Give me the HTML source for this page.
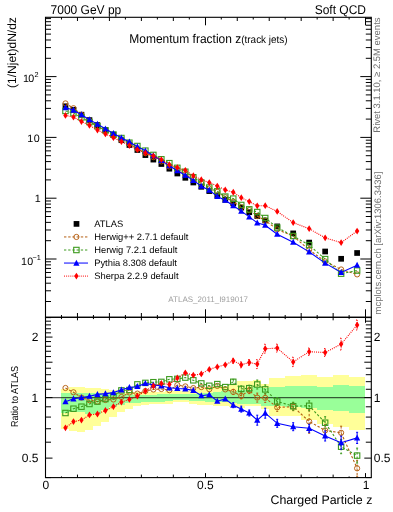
<!DOCTYPE html><html><head><meta charset="utf-8"><style>html,body{margin:0;padding:0;background:#fff;width:393px;height:512px;overflow:hidden}svg{display:block;will-change:transform}text{font-family:"Liberation Sans",sans-serif;text-rendering:geometricPrecision}</style></head><body><svg width="393" height="512" viewBox="0 0 393 512"><defs><clipPath id="cm"><rect x="45.5" y="17.3" width="325.8" height="300.0"/></clipPath><clipPath id="cr"><rect x="45.5" y="317.3" width="325.8" height="160.3"/></clipPath></defs><g clip-path="url(#cr)"><rect x="61" y="389" width="8" height="40" fill="#ffff99"/><rect x="69" y="387" width="8" height="44" fill="#ffff99"/><rect x="77" y="387" width="8" height="45" fill="#ffff99"/><rect x="85" y="388" width="8" height="42" fill="#ffff99"/><rect x="93" y="388" width="8" height="38" fill="#ffff99"/><rect x="101" y="389" width="8" height="33" fill="#ffff99"/><rect x="109" y="390" width="8" height="27" fill="#ffff99"/><rect x="117" y="391" width="8" height="21" fill="#ffff99"/><rect x="125" y="392" width="8" height="17" fill="#ffff99"/><rect x="133" y="392" width="8" height="14" fill="#ffff99"/><rect x="141" y="392" width="8" height="13" fill="#ffff99"/><rect x="149" y="392" width="8" height="12" fill="#ffff99"/><rect x="157" y="392" width="8" height="12" fill="#ffff99"/><rect x="165" y="391" width="8" height="13" fill="#ffff99"/><rect x="173" y="391" width="8" height="11" fill="#ffff99"/><rect x="181" y="391" width="8" height="11" fill="#ffff99"/><rect x="189" y="389" width="8" height="15" fill="#ffff99"/><rect x="197" y="388" width="8" height="17" fill="#ffff99"/><rect x="205" y="387" width="8" height="18" fill="#ffff99"/><rect x="213" y="386" width="8" height="20" fill="#ffff99"/><rect x="221" y="386" width="8" height="20" fill="#ffff99"/><rect x="229" y="385" width="8" height="22" fill="#ffff99"/><rect x="237" y="381" width="8" height="27" fill="#ffff99"/><rect x="245" y="381" width="8" height="25" fill="#ffff99"/><rect x="253" y="380" width="8" height="26" fill="#ffff99"/><rect x="261" y="384" width="8" height="25" fill="#ffff99"/><rect x="269" y="378" width="16" height="38" fill="#ffff99"/><rect x="285" y="376" width="16" height="40" fill="#ffff99"/><rect x="301" y="375" width="16" height="45" fill="#ffff99"/><rect x="317" y="377" width="16" height="47" fill="#ffff99"/><rect x="333" y="375" width="16" height="52" fill="#ffff99"/><rect x="349" y="377" width="16" height="53" fill="#ffff99"/><rect x="61" y="393" width="8" height="20" fill="#99ff99"/><rect x="69" y="393" width="8" height="19" fill="#99ff99"/><rect x="77" y="393" width="8" height="19" fill="#99ff99"/><rect x="85" y="393" width="8" height="21" fill="#99ff99"/><rect x="93" y="393" width="8" height="21" fill="#99ff99"/><rect x="101" y="394" width="8" height="16" fill="#99ff99"/><rect x="109" y="394" width="8" height="13" fill="#99ff99"/><rect x="117" y="394" width="8" height="11" fill="#99ff99"/><rect x="125" y="394" width="8" height="9" fill="#99ff99"/><rect x="133" y="395" width="8" height="8" fill="#99ff99"/><rect x="141" y="395" width="8" height="7" fill="#99ff99"/><rect x="149" y="395" width="8" height="7" fill="#99ff99"/><rect x="157" y="394" width="8" height="8" fill="#99ff99"/><rect x="165" y="394" width="8" height="7" fill="#99ff99"/><rect x="173" y="394" width="8" height="6" fill="#99ff99"/><rect x="181" y="394" width="8" height="6" fill="#99ff99"/><rect x="189" y="394" width="8" height="7" fill="#99ff99"/><rect x="197" y="393" width="8" height="8" fill="#99ff99"/><rect x="205" y="393" width="8" height="9" fill="#99ff99"/><rect x="213" y="392" width="8" height="10" fill="#99ff99"/><rect x="221" y="391" width="8" height="11" fill="#99ff99"/><rect x="229" y="391" width="8" height="12" fill="#99ff99"/><rect x="237" y="390" width="8" height="14" fill="#99ff99"/><rect x="245" y="390" width="8" height="14" fill="#99ff99"/><rect x="253" y="387" width="8" height="17" fill="#99ff99"/><rect x="261" y="388" width="8" height="18" fill="#99ff99"/><rect x="269" y="387" width="16" height="19" fill="#99ff99"/><rect x="285" y="386" width="16" height="21" fill="#99ff99"/><rect x="301" y="386" width="16" height="22" fill="#99ff99"/><rect x="317" y="387" width="16" height="23" fill="#99ff99"/><rect x="333" y="385" width="16" height="26" fill="#99ff99"/><rect x="349" y="386" width="16" height="27" fill="#99ff99"/></g><line x1="45.5" y1="397.6" x2="371.3" y2="397.6" stroke="#000" stroke-opacity="0.65" stroke-width="1.4"/><g clip-path="url(#cm)"><rect x="62.62" y="103.45" width="5.7" height="5.7" fill="#000"/><rect x="70.62" y="106.95" width="5.7" height="5.7" fill="#000"/><rect x="78.61" y="111.85" width="5.7" height="5.7" fill="#000"/><rect x="86.60" y="117.25" width="5.7" height="5.7" fill="#000"/><rect x="94.59" y="122.25" width="5.7" height="5.7" fill="#000"/><rect x="102.58" y="127.15" width="5.7" height="5.7" fill="#000"/><rect x="110.57" y="132.15" width="5.7" height="5.7" fill="#000"/><rect x="118.56" y="137.35" width="5.7" height="5.7" fill="#000"/><rect x="126.55" y="142.15" width="5.7" height="5.7" fill="#000"/><rect x="134.53" y="147.15" width="5.7" height="5.7" fill="#000"/><rect x="142.53" y="152.25" width="5.7" height="5.7" fill="#000"/><rect x="150.52" y="156.75" width="5.7" height="5.7" fill="#000"/><rect x="158.51" y="161.15" width="5.7" height="5.7" fill="#000"/><rect x="166.50" y="165.85" width="5.7" height="5.7" fill="#000"/><rect x="174.49" y="170.65" width="5.7" height="5.7" fill="#000"/><rect x="182.48" y="174.95" width="5.7" height="5.7" fill="#000"/><rect x="190.47" y="179.65" width="5.7" height="5.7" fill="#000"/><rect x="198.46" y="183.95" width="5.7" height="5.7" fill="#000"/><rect x="206.44" y="188.25" width="5.7" height="5.7" fill="#000"/><rect x="214.44" y="192.55" width="5.7" height="5.7" fill="#000"/><rect x="222.43" y="196.95" width="5.7" height="5.7" fill="#000"/><rect x="230.42" y="200.55" width="5.7" height="5.7" fill="#000"/><rect x="238.41" y="204.75" width="5.7" height="5.7" fill="#000"/><rect x="246.40" y="209.35" width="5.7" height="5.7" fill="#000"/><rect x="254.39" y="213.15" width="5.7" height="5.7" fill="#000"/><rect x="262.38" y="217.65" width="5.7" height="5.7" fill="#000"/><rect x="274.36" y="223.55" width="5.7" height="5.7" fill="#000"/><rect x="290.34" y="230.55" width="5.7" height="5.7" fill="#000"/><rect x="306.32" y="239.75" width="5.7" height="5.7" fill="#000"/><rect x="322.30" y="248.65" width="5.7" height="5.7" fill="#000"/><rect x="338.28" y="255.95" width="5.7" height="5.7" fill="#000"/><rect x="354.26" y="250.15" width="5.7" height="5.7" fill="#000"/></g><g clip-path="url(#cm)"><polyline points="65.47,103.40 73.47,108.20 81.46,114.70 89.45,120.89 97.44,126.31 105.43,130.73 113.42,135.57 121.41,140.02 129.40,143.46 137.38,148.79 145.38,153.10 153.37,157.15 161.36,161.40 169.35,166.46 177.34,169.72 185.33,174.41 193.32,179.63 201.31,183.62 209.29,188.56 217.29,191.86 225.28,197.32 233.27,201.68 241.26,207.09 249.25,210.08 257.24,216.00 265.23,220.59 277.21,229.36 293.19,236.15 309.17,249.83 325.15,261.42 341.13,269.45 357.11,274.39" fill="none" stroke="#b45e10" stroke-width="1.1" stroke-dasharray="2.4,1.8"/><path d="M309.17,246.26V253.40M308.17,246.26h2M308.17,253.40h2" fill="none" stroke="#b45e10" stroke-width="1" stroke-dasharray="2.4,1.8"/><circle cx="65.47" cy="103.40" r="2.6" fill="none" stroke="#b45e10" stroke-width="0.95"/><circle cx="73.47" cy="108.20" r="2.6" fill="none" stroke="#b45e10" stroke-width="0.95"/><circle cx="81.46" cy="114.70" r="2.6" fill="none" stroke="#b45e10" stroke-width="0.95"/><circle cx="89.45" cy="120.89" r="2.6" fill="none" stroke="#b45e10" stroke-width="0.95"/><circle cx="97.44" cy="126.31" r="2.6" fill="none" stroke="#b45e10" stroke-width="0.95"/><circle cx="105.43" cy="130.73" r="2.6" fill="none" stroke="#b45e10" stroke-width="0.95"/><circle cx="113.42" cy="135.57" r="2.6" fill="none" stroke="#b45e10" stroke-width="0.95"/><circle cx="121.41" cy="140.02" r="2.6" fill="none" stroke="#b45e10" stroke-width="0.95"/><circle cx="129.40" cy="143.46" r="2.6" fill="none" stroke="#b45e10" stroke-width="0.95"/><circle cx="137.38" cy="148.79" r="2.6" fill="none" stroke="#b45e10" stroke-width="0.95"/><circle cx="145.38" cy="153.10" r="2.6" fill="none" stroke="#b45e10" stroke-width="0.95"/><circle cx="153.37" cy="157.15" r="2.6" fill="none" stroke="#b45e10" stroke-width="0.95"/><circle cx="161.36" cy="161.40" r="2.6" fill="none" stroke="#b45e10" stroke-width="0.95"/><circle cx="169.35" cy="166.46" r="2.6" fill="none" stroke="#b45e10" stroke-width="0.95"/><circle cx="177.34" cy="169.72" r="2.6" fill="none" stroke="#b45e10" stroke-width="0.95"/><circle cx="185.33" cy="174.41" r="2.6" fill="none" stroke="#b45e10" stroke-width="0.95"/><circle cx="193.32" cy="179.63" r="2.6" fill="none" stroke="#b45e10" stroke-width="0.95"/><circle cx="201.31" cy="183.62" r="2.6" fill="none" stroke="#b45e10" stroke-width="0.95"/><circle cx="209.29" cy="188.56" r="2.6" fill="none" stroke="#b45e10" stroke-width="0.95"/><circle cx="217.29" cy="191.86" r="2.6" fill="none" stroke="#b45e10" stroke-width="0.95"/><circle cx="225.28" cy="197.32" r="2.6" fill="none" stroke="#b45e10" stroke-width="0.95"/><circle cx="233.27" cy="201.68" r="2.6" fill="none" stroke="#b45e10" stroke-width="0.95"/><circle cx="241.26" cy="207.09" r="2.6" fill="none" stroke="#b45e10" stroke-width="0.95"/><circle cx="249.25" cy="210.08" r="2.6" fill="none" stroke="#b45e10" stroke-width="0.95"/><circle cx="257.24" cy="216.00" r="2.6" fill="none" stroke="#b45e10" stroke-width="0.95"/><circle cx="265.23" cy="220.59" r="2.6" fill="none" stroke="#b45e10" stroke-width="0.95"/><circle cx="277.21" cy="229.36" r="2.6" fill="none" stroke="#b45e10" stroke-width="0.95"/><circle cx="293.19" cy="236.15" r="2.6" fill="none" stroke="#b45e10" stroke-width="0.95"/><circle cx="309.17" cy="249.83" r="2.6" fill="none" stroke="#b45e10" stroke-width="0.95"/><circle cx="325.15" cy="261.42" r="2.6" fill="none" stroke="#b45e10" stroke-width="0.95"/><circle cx="341.13" cy="269.45" r="2.6" fill="none" stroke="#b45e10" stroke-width="0.95"/><circle cx="357.11" cy="274.39" r="2.6" fill="none" stroke="#b45e10" stroke-width="0.95"/></g><g clip-path="url(#cm)"><polyline points="65.47,110.96 73.47,113.16 81.46,117.45 89.45,122.04 97.44,126.31 105.43,130.42 113.42,134.52 121.41,138.02 129.40,142.70 137.38,146.01 145.38,150.65 153.37,154.94 161.36,159.25 169.35,163.16 177.34,167.84 185.33,171.75 193.32,177.27 201.31,182.50 209.29,187.53 217.29,191.32 225.28,196.62 233.27,198.62 241.26,204.97 249.25,209.36 257.24,212.04 265.23,218.02 277.21,227.58 293.19,236.00 309.17,245.08 325.15,259.09 341.13,273.65 357.11,270.54" fill="none" stroke="#3c9a1e" stroke-width="1.1" stroke-dasharray="2.3,1.9"/><rect x="62.77" y="108.26" width="5.4" height="5.4" fill="none" stroke="#3c9a1e" stroke-width="1.1"/><rect x="70.77" y="110.46" width="5.4" height="5.4" fill="none" stroke="#3c9a1e" stroke-width="1.1"/><rect x="78.76" y="114.75" width="5.4" height="5.4" fill="none" stroke="#3c9a1e" stroke-width="1.1"/><rect x="86.75" y="119.34" width="5.4" height="5.4" fill="none" stroke="#3c9a1e" stroke-width="1.1"/><rect x="94.73" y="123.61" width="5.4" height="5.4" fill="none" stroke="#3c9a1e" stroke-width="1.1"/><rect x="102.73" y="127.72" width="5.4" height="5.4" fill="none" stroke="#3c9a1e" stroke-width="1.1"/><rect x="110.72" y="131.82" width="5.4" height="5.4" fill="none" stroke="#3c9a1e" stroke-width="1.1"/><rect x="118.71" y="135.32" width="5.4" height="5.4" fill="none" stroke="#3c9a1e" stroke-width="1.1"/><rect x="126.70" y="140.00" width="5.4" height="5.4" fill="none" stroke="#3c9a1e" stroke-width="1.1"/><rect x="134.69" y="143.31" width="5.4" height="5.4" fill="none" stroke="#3c9a1e" stroke-width="1.1"/><rect x="142.68" y="147.95" width="5.4" height="5.4" fill="none" stroke="#3c9a1e" stroke-width="1.1"/><rect x="150.67" y="152.24" width="5.4" height="5.4" fill="none" stroke="#3c9a1e" stroke-width="1.1"/><rect x="158.66" y="156.55" width="5.4" height="5.4" fill="none" stroke="#3c9a1e" stroke-width="1.1"/><rect x="166.65" y="160.46" width="5.4" height="5.4" fill="none" stroke="#3c9a1e" stroke-width="1.1"/><rect x="174.64" y="165.14" width="5.4" height="5.4" fill="none" stroke="#3c9a1e" stroke-width="1.1"/><rect x="182.63" y="169.05" width="5.4" height="5.4" fill="none" stroke="#3c9a1e" stroke-width="1.1"/><rect x="190.62" y="174.57" width="5.4" height="5.4" fill="none" stroke="#3c9a1e" stroke-width="1.1"/><rect x="198.61" y="179.80" width="5.4" height="5.4" fill="none" stroke="#3c9a1e" stroke-width="1.1"/><rect x="206.59" y="184.83" width="5.4" height="5.4" fill="none" stroke="#3c9a1e" stroke-width="1.1"/><rect x="214.59" y="188.62" width="5.4" height="5.4" fill="none" stroke="#3c9a1e" stroke-width="1.1"/><rect x="222.58" y="193.92" width="5.4" height="5.4" fill="none" stroke="#3c9a1e" stroke-width="1.1"/><rect x="230.57" y="195.92" width="5.4" height="5.4" fill="none" stroke="#3c9a1e" stroke-width="1.1"/><rect x="238.56" y="202.27" width="5.4" height="5.4" fill="none" stroke="#3c9a1e" stroke-width="1.1"/><rect x="246.55" y="206.66" width="5.4" height="5.4" fill="none" stroke="#3c9a1e" stroke-width="1.1"/><rect x="254.54" y="209.34" width="5.4" height="5.4" fill="none" stroke="#3c9a1e" stroke-width="1.1"/><rect x="262.53" y="215.32" width="5.4" height="5.4" fill="none" stroke="#3c9a1e" stroke-width="1.1"/><rect x="274.51" y="224.88" width="5.4" height="5.4" fill="none" stroke="#3c9a1e" stroke-width="1.1"/><rect x="290.49" y="233.30" width="5.4" height="5.4" fill="none" stroke="#3c9a1e" stroke-width="1.1"/><rect x="306.47" y="242.38" width="5.4" height="5.4" fill="none" stroke="#3c9a1e" stroke-width="1.1"/><rect x="322.45" y="256.39" width="5.4" height="5.4" fill="none" stroke="#3c9a1e" stroke-width="1.1"/><rect x="338.43" y="270.95" width="5.4" height="5.4" fill="none" stroke="#3c9a1e" stroke-width="1.1"/><rect x="354.41" y="267.84" width="5.4" height="5.4" fill="none" stroke="#3c9a1e" stroke-width="1.1"/></g><g clip-path="url(#cm)"><polyline points="65.47,107.54 73.47,110.16 81.46,114.70 89.45,119.68 97.44,124.13 105.43,128.79 113.42,133.49 121.41,137.84 129.40,141.94 137.38,146.64 145.38,150.80 153.37,155.76 161.36,160.49 169.35,165.74 177.34,170.75 185.33,175.17 193.32,180.35 201.31,186.23 209.29,190.19 217.29,196.49 225.28,200.19 233.27,205.70 241.26,211.08 249.25,216.86 257.24,222.84 265.23,225.22 277.21,234.17 293.19,242.20 309.17,251.89 325.15,263.12 341.13,272.44 357.11,265.19" fill="none" stroke="#0000ff" stroke-width="1.1"/><path d="M65.47,104.14L68.57,110.14L62.37,110.14Z" fill="#0000ff"/><path d="M73.47,106.76L76.56,112.76L70.37,112.76Z" fill="#0000ff"/><path d="M81.46,111.30L84.56,117.30L78.36,117.30Z" fill="#0000ff"/><path d="M89.45,116.28L92.55,122.28L86.35,122.28Z" fill="#0000ff"/><path d="M97.44,120.73L100.53,126.73L94.34,126.73Z" fill="#0000ff"/><path d="M105.43,125.39L108.53,131.39L102.33,131.39Z" fill="#0000ff"/><path d="M113.42,130.09L116.52,136.09L110.32,136.09Z" fill="#0000ff"/><path d="M121.41,134.44L124.51,140.44L118.31,140.44Z" fill="#0000ff"/><path d="M129.40,138.54L132.50,144.54L126.30,144.54Z" fill="#0000ff"/><path d="M137.38,143.24L140.48,149.24L134.28,149.24Z" fill="#0000ff"/><path d="M145.38,147.40L148.47,153.40L142.28,153.40Z" fill="#0000ff"/><path d="M153.37,152.36L156.47,158.36L150.27,158.36Z" fill="#0000ff"/><path d="M161.36,157.09L164.46,163.09L158.26,163.09Z" fill="#0000ff"/><path d="M169.35,162.34L172.45,168.34L166.25,168.34Z" fill="#0000ff"/><path d="M177.34,167.35L180.44,173.35L174.24,173.35Z" fill="#0000ff"/><path d="M185.33,171.77L188.43,177.77L182.23,177.77Z" fill="#0000ff"/><path d="M193.32,176.95L196.42,182.95L190.22,182.95Z" fill="#0000ff"/><path d="M201.31,182.83L204.41,188.83L198.21,188.83Z" fill="#0000ff"/><path d="M209.29,186.79L212.39,192.79L206.19,192.79Z" fill="#0000ff"/><path d="M217.29,193.09L220.39,199.09L214.19,199.09Z" fill="#0000ff"/><path d="M225.28,196.79L228.38,202.79L222.18,202.79Z" fill="#0000ff"/><path d="M233.27,202.30L236.37,208.30L230.17,208.30Z" fill="#0000ff"/><path d="M241.26,207.68L244.36,213.68L238.16,213.68Z" fill="#0000ff"/><path d="M249.25,213.46L252.35,219.46L246.15,219.46Z" fill="#0000ff"/><path d="M257.24,219.44L260.34,225.44L254.14,225.44Z" fill="#0000ff"/><path d="M265.23,221.82L268.33,227.82L262.12,227.82Z" fill="#0000ff"/><path d="M277.21,230.77L280.31,236.77L274.11,236.77Z" fill="#0000ff"/><path d="M293.19,238.80L296.29,244.80L290.09,244.80Z" fill="#0000ff"/><path d="M309.17,248.49L312.27,254.49L306.07,254.49Z" fill="#0000ff"/><path d="M325.15,259.72L328.25,265.72L322.05,265.72Z" fill="#0000ff"/><path d="M341.13,269.04L344.23,275.04L338.03,275.04Z" fill="#0000ff"/><path d="M357.11,261.79L360.21,267.79L354.01,267.79Z" fill="#0000ff"/></g><g clip-path="url(#cm)"><polyline points="65.47,115.44 73.47,117.06 81.46,121.51 89.45,125.33 97.44,130.06 105.43,133.90 113.42,137.72 121.41,141.56 129.40,145.54 137.38,149.55 145.38,153.10 153.37,156.09 161.36,159.70 169.35,164.71 177.34,167.57 185.33,170.30 193.32,175.72 201.31,179.63 209.29,182.57 217.29,186.11 225.28,189.88 233.27,192.27 241.26,197.68 249.25,201.58 257.24,205.87 265.23,205.71 277.21,211.43 293.19,222.60 309.17,228.72 325.15,237.86 341.13,242.62 357.11,231.04" fill="none" stroke="#ff0000" stroke-width="1.1" stroke-dasharray="1.0,1.1"/><path d="M65.47,112.04L67.67,115.44L65.47,118.84L63.27,115.44Z" fill="#ff0000"/><path d="M73.47,113.66L75.67,117.06L73.47,120.46L71.27,117.06Z" fill="#ff0000"/><path d="M81.46,118.11L83.66,121.51L81.46,124.91L79.26,121.51Z" fill="#ff0000"/><path d="M89.45,121.93L91.65,125.33L89.45,128.73L87.25,125.33Z" fill="#ff0000"/><path d="M97.44,126.66L99.64,130.06L97.44,133.46L95.23,130.06Z" fill="#ff0000"/><path d="M105.43,130.50L107.63,133.90L105.43,137.30L103.23,133.90Z" fill="#ff0000"/><path d="M113.42,134.32L115.62,137.72L113.42,141.12L111.22,137.72Z" fill="#ff0000"/><path d="M121.41,138.16L123.61,141.56L121.41,144.96L119.21,141.56Z" fill="#ff0000"/><path d="M129.40,142.14L131.59,145.54L129.40,148.94L127.20,145.54Z" fill="#ff0000"/><path d="M137.38,146.15L139.58,149.55L137.38,152.95L135.19,149.55Z" fill="#ff0000"/><path d="M145.38,149.70L147.57,153.10L145.38,156.50L143.18,153.10Z" fill="#ff0000"/><path d="M153.37,152.69L155.56,156.09L153.37,159.49L151.17,156.09Z" fill="#ff0000"/><path d="M161.36,156.30L163.56,159.70L161.36,163.10L159.16,159.70Z" fill="#ff0000"/><path d="M169.35,161.31L171.55,164.71L169.35,168.11L167.15,164.71Z" fill="#ff0000"/><path d="M177.34,164.17L179.53,167.57L177.34,170.97L175.14,167.57Z" fill="#ff0000"/><path d="M185.33,166.90L187.53,170.30L185.33,173.70L183.13,170.30Z" fill="#ff0000"/><path d="M193.32,172.32L195.52,175.72L193.32,179.12L191.12,175.72Z" fill="#ff0000"/><path d="M201.31,176.23L203.51,179.63L201.31,183.03L199.11,179.63Z" fill="#ff0000"/><path d="M209.29,179.17L211.49,182.57L209.29,185.97L207.09,182.57Z" fill="#ff0000"/><path d="M217.29,182.71L219.49,186.11L217.29,189.51L215.09,186.11Z" fill="#ff0000"/><path d="M225.28,186.48L227.47,189.88L225.28,193.28L223.08,189.88Z" fill="#ff0000"/><path d="M233.27,188.87L235.47,192.27L233.27,195.67L231.07,192.27Z" fill="#ff0000"/><path d="M241.26,194.28L243.46,197.68L241.26,201.08L239.06,197.68Z" fill="#ff0000"/><path d="M249.25,198.18L251.45,201.58L249.25,204.98L247.05,201.58Z" fill="#ff0000"/><path d="M257.24,202.47L259.44,205.87L257.24,209.27L255.04,205.87Z" fill="#ff0000"/><path d="M265.23,202.31L267.43,205.71L265.23,209.11L263.03,205.71Z" fill="#ff0000"/><path d="M277.21,208.03L279.41,211.43L277.21,214.83L275.01,211.43Z" fill="#ff0000"/><path d="M293.19,219.20L295.39,222.60L293.19,226.00L290.99,222.60Z" fill="#ff0000"/><path d="M309.17,225.32L311.37,228.72L309.17,232.12L306.97,228.72Z" fill="#ff0000"/><path d="M325.15,234.46L327.35,237.86L325.15,241.26L322.95,237.86Z" fill="#ff0000"/><path d="M341.13,239.22L343.33,242.62L341.13,246.02L338.93,242.62Z" fill="#ff0000"/><path d="M357.11,227.64L359.31,231.04L357.11,234.44L354.91,231.04Z" fill="#ff0000"/></g><g clip-path="url(#cr)"><polyline points="65.47,388.00 73.47,392.30 81.46,397.60 89.45,400.20 97.44,401.60 105.43,400.00 113.42,399.50 121.41,397.00 129.40,392.50 137.38,393.60 145.38,391.00 153.37,389.50 161.36,389.00 169.35,390.20 177.34,385.10 185.33,386.40 193.32,388.10 201.31,387.10 209.29,389.20 217.29,385.90 225.28,389.40 233.27,391.90 241.26,395.90 249.25,390.60 257.24,397.60 265.23,397.90 277.21,407.40 293.19,406.70 309.17,421.50 325.15,430.40 341.13,432.80 357.11,468.30" fill="none" stroke="#b45e10" stroke-width="1.1" stroke-dasharray="2.4,1.8"/><path d="M233.27,389.40V394.40M232.27,389.40h2M232.27,394.40h2M241.26,392.90V398.90M240.26,392.90h2M240.26,398.90h2M249.25,387.60V393.60M248.25,387.60h2M248.25,393.60h2M257.24,393.10V402.10M256.24,393.10h2M256.24,402.10h2M265.23,393.40V402.40M264.23,393.40h2M264.23,402.40h2M277.21,403.40V411.40M276.21,403.40h2M276.21,411.40h2M293.19,402.70V410.70M292.19,402.70h2M292.19,410.70h2M309.17,409.70V433.30M308.17,409.70h2M308.17,433.30h2M325.15,424.40V436.40M324.15,424.40h2M324.15,436.40h2M341.13,426.20V439.40M340.13,426.20h2M340.13,439.40h2M357.11,460.30V476.30M356.11,460.30h2M356.11,476.30h2" fill="none" stroke="#b45e10" stroke-width="1" stroke-dasharray="2.4,1.8"/><circle cx="65.47" cy="388.00" r="2.6" fill="none" stroke="#b45e10" stroke-width="0.95"/><circle cx="73.47" cy="392.30" r="2.6" fill="none" stroke="#b45e10" stroke-width="0.95"/><circle cx="81.46" cy="397.60" r="2.6" fill="none" stroke="#b45e10" stroke-width="0.95"/><circle cx="89.45" cy="400.20" r="2.6" fill="none" stroke="#b45e10" stroke-width="0.95"/><circle cx="97.44" cy="401.60" r="2.6" fill="none" stroke="#b45e10" stroke-width="0.95"/><circle cx="105.43" cy="400.00" r="2.6" fill="none" stroke="#b45e10" stroke-width="0.95"/><circle cx="113.42" cy="399.50" r="2.6" fill="none" stroke="#b45e10" stroke-width="0.95"/><circle cx="121.41" cy="397.00" r="2.6" fill="none" stroke="#b45e10" stroke-width="0.95"/><circle cx="129.40" cy="392.50" r="2.6" fill="none" stroke="#b45e10" stroke-width="0.95"/><circle cx="137.38" cy="393.60" r="2.6" fill="none" stroke="#b45e10" stroke-width="0.95"/><circle cx="145.38" cy="391.00" r="2.6" fill="none" stroke="#b45e10" stroke-width="0.95"/><circle cx="153.37" cy="389.50" r="2.6" fill="none" stroke="#b45e10" stroke-width="0.95"/><circle cx="161.36" cy="389.00" r="2.6" fill="none" stroke="#b45e10" stroke-width="0.95"/><circle cx="169.35" cy="390.20" r="2.6" fill="none" stroke="#b45e10" stroke-width="0.95"/><circle cx="177.34" cy="385.10" r="2.6" fill="none" stroke="#b45e10" stroke-width="0.95"/><circle cx="185.33" cy="386.40" r="2.6" fill="none" stroke="#b45e10" stroke-width="0.95"/><circle cx="193.32" cy="388.10" r="2.6" fill="none" stroke="#b45e10" stroke-width="0.95"/><circle cx="201.31" cy="387.10" r="2.6" fill="none" stroke="#b45e10" stroke-width="0.95"/><circle cx="209.29" cy="389.20" r="2.6" fill="none" stroke="#b45e10" stroke-width="0.95"/><circle cx="217.29" cy="385.90" r="2.6" fill="none" stroke="#b45e10" stroke-width="0.95"/><circle cx="225.28" cy="389.40" r="2.6" fill="none" stroke="#b45e10" stroke-width="0.95"/><circle cx="233.27" cy="391.90" r="2.6" fill="none" stroke="#b45e10" stroke-width="0.95"/><circle cx="241.26" cy="395.90" r="2.6" fill="none" stroke="#b45e10" stroke-width="0.95"/><circle cx="249.25" cy="390.60" r="2.6" fill="none" stroke="#b45e10" stroke-width="0.95"/><circle cx="257.24" cy="397.60" r="2.6" fill="none" stroke="#b45e10" stroke-width="0.95"/><circle cx="265.23" cy="397.90" r="2.6" fill="none" stroke="#b45e10" stroke-width="0.95"/><circle cx="277.21" cy="407.40" r="2.6" fill="none" stroke="#b45e10" stroke-width="0.95"/><circle cx="293.19" cy="406.70" r="2.6" fill="none" stroke="#b45e10" stroke-width="0.95"/><circle cx="309.17" cy="421.50" r="2.6" fill="none" stroke="#b45e10" stroke-width="0.95"/><circle cx="325.15" cy="430.40" r="2.6" fill="none" stroke="#b45e10" stroke-width="0.95"/><circle cx="341.13" cy="432.80" r="2.6" fill="none" stroke="#b45e10" stroke-width="0.95"/><circle cx="357.11" cy="468.30" r="2.6" fill="none" stroke="#b45e10" stroke-width="0.95"/></g><g clip-path="url(#cr)"><polyline points="65.47,413.00 73.47,408.70 81.46,406.70 89.45,404.00 97.44,401.60 105.43,399.00 113.42,396.00 121.41,390.40 129.40,390.00 137.38,384.40 145.38,382.90 153.37,382.20 161.36,381.90 169.35,379.30 177.34,378.90 185.33,377.60 193.32,380.30 201.31,383.40 209.29,385.80 217.29,384.10 225.28,387.10 233.27,381.80 241.26,388.90 249.25,388.20 257.24,384.50 265.23,389.40 277.21,401.50 293.19,406.20 309.17,405.80 325.15,422.70 341.13,446.70 357.11,455.60" fill="none" stroke="#3c9a1e" stroke-width="1.1" stroke-dasharray="2.3,1.9"/><path d="M233.27,379.30V384.30M232.27,379.30h2M232.27,384.30h2M241.26,385.90V391.90M240.26,385.90h2M240.26,391.90h2M249.25,385.20V391.20M248.25,385.20h2M248.25,391.20h2M257.24,380.00V389.00M256.24,380.00h2M256.24,389.00h2M265.23,384.90V393.90M264.23,384.90h2M264.23,393.90h2M277.21,397.50V405.50M276.21,397.50h2M276.21,405.50h2M293.19,402.20V410.20M292.19,402.20h2M292.19,410.20h2M309.17,400.80V410.80M308.17,400.80h2M308.17,410.80h2M325.15,416.70V428.70M324.15,416.70h2M324.15,428.70h2M341.13,439.70V453.70M340.13,439.70h2M340.13,453.70h2M357.11,448.10V463.10M356.11,448.10h2M356.11,463.10h2" fill="none" stroke="#3c9a1e" stroke-width="1" stroke-dasharray="2.3,1.9"/><rect x="62.77" y="410.30" width="5.4" height="5.4" fill="none" stroke="#3c9a1e" stroke-width="1.1"/><rect x="70.77" y="406.00" width="5.4" height="5.4" fill="none" stroke="#3c9a1e" stroke-width="1.1"/><rect x="78.76" y="404.00" width="5.4" height="5.4" fill="none" stroke="#3c9a1e" stroke-width="1.1"/><rect x="86.75" y="401.30" width="5.4" height="5.4" fill="none" stroke="#3c9a1e" stroke-width="1.1"/><rect x="94.73" y="398.90" width="5.4" height="5.4" fill="none" stroke="#3c9a1e" stroke-width="1.1"/><rect x="102.73" y="396.30" width="5.4" height="5.4" fill="none" stroke="#3c9a1e" stroke-width="1.1"/><rect x="110.72" y="393.30" width="5.4" height="5.4" fill="none" stroke="#3c9a1e" stroke-width="1.1"/><rect x="118.71" y="387.70" width="5.4" height="5.4" fill="none" stroke="#3c9a1e" stroke-width="1.1"/><rect x="126.70" y="387.30" width="5.4" height="5.4" fill="none" stroke="#3c9a1e" stroke-width="1.1"/><rect x="134.69" y="381.70" width="5.4" height="5.4" fill="none" stroke="#3c9a1e" stroke-width="1.1"/><rect x="142.68" y="380.20" width="5.4" height="5.4" fill="none" stroke="#3c9a1e" stroke-width="1.1"/><rect x="150.67" y="379.50" width="5.4" height="5.4" fill="none" stroke="#3c9a1e" stroke-width="1.1"/><rect x="158.66" y="379.20" width="5.4" height="5.4" fill="none" stroke="#3c9a1e" stroke-width="1.1"/><rect x="166.65" y="376.60" width="5.4" height="5.4" fill="none" stroke="#3c9a1e" stroke-width="1.1"/><rect x="174.64" y="376.20" width="5.4" height="5.4" fill="none" stroke="#3c9a1e" stroke-width="1.1"/><rect x="182.63" y="374.90" width="5.4" height="5.4" fill="none" stroke="#3c9a1e" stroke-width="1.1"/><rect x="190.62" y="377.60" width="5.4" height="5.4" fill="none" stroke="#3c9a1e" stroke-width="1.1"/><rect x="198.61" y="380.70" width="5.4" height="5.4" fill="none" stroke="#3c9a1e" stroke-width="1.1"/><rect x="206.59" y="383.10" width="5.4" height="5.4" fill="none" stroke="#3c9a1e" stroke-width="1.1"/><rect x="214.59" y="381.40" width="5.4" height="5.4" fill="none" stroke="#3c9a1e" stroke-width="1.1"/><rect x="222.58" y="384.40" width="5.4" height="5.4" fill="none" stroke="#3c9a1e" stroke-width="1.1"/><rect x="230.57" y="379.10" width="5.4" height="5.4" fill="none" stroke="#3c9a1e" stroke-width="1.1"/><rect x="238.56" y="386.20" width="5.4" height="5.4" fill="none" stroke="#3c9a1e" stroke-width="1.1"/><rect x="246.55" y="385.50" width="5.4" height="5.4" fill="none" stroke="#3c9a1e" stroke-width="1.1"/><rect x="254.54" y="381.80" width="5.4" height="5.4" fill="none" stroke="#3c9a1e" stroke-width="1.1"/><rect x="262.53" y="386.70" width="5.4" height="5.4" fill="none" stroke="#3c9a1e" stroke-width="1.1"/><rect x="274.51" y="398.80" width="5.4" height="5.4" fill="none" stroke="#3c9a1e" stroke-width="1.1"/><rect x="290.49" y="403.50" width="5.4" height="5.4" fill="none" stroke="#3c9a1e" stroke-width="1.1"/><rect x="306.47" y="403.10" width="5.4" height="5.4" fill="none" stroke="#3c9a1e" stroke-width="1.1"/><rect x="322.45" y="420.00" width="5.4" height="5.4" fill="none" stroke="#3c9a1e" stroke-width="1.1"/><rect x="338.43" y="444.00" width="5.4" height="5.4" fill="none" stroke="#3c9a1e" stroke-width="1.1"/><rect x="354.41" y="452.90" width="5.4" height="5.4" fill="none" stroke="#3c9a1e" stroke-width="1.1"/></g><g clip-path="url(#cr)"><polyline points="65.47,401.70 73.47,398.80 81.46,397.60 89.45,396.20 97.44,394.40 105.43,393.60 113.42,392.60 121.41,389.80 129.40,387.50 137.38,386.50 145.38,383.40 153.37,384.90 161.36,386.00 169.35,387.80 177.34,388.50 185.33,388.90 193.32,390.50 201.31,395.70 209.29,394.60 217.29,401.20 225.28,398.90 233.27,405.20 241.26,409.10 249.25,413.00 257.24,420.20 265.23,413.20 277.21,423.30 293.19,426.70 309.17,428.30 325.15,436.00 341.13,442.70 357.11,437.90" fill="none" stroke="#0000ff" stroke-width="1.1"/><path d="M233.27,402.70V407.70M232.27,402.70h2M232.27,407.70h2M241.26,406.10V412.10M240.26,406.10h2M240.26,412.10h2M249.25,410.00V416.00M248.25,410.00h2M248.25,416.00h2M257.24,415.20V425.20M256.24,415.20h2M256.24,425.20h2M265.23,408.20V418.20M264.23,408.20h2M264.23,418.20h2M277.21,419.30V427.30M276.21,419.30h2M276.21,427.30h2M293.19,422.70V430.70M292.19,422.70h2M292.19,430.70h2M309.17,424.30V432.30M308.17,424.30h2M308.17,432.30h2M325.15,431.00V441.00M324.15,431.00h2M324.15,441.00h2M341.13,436.10V449.30M340.13,436.10h2M340.13,449.30h2M357.11,432.30V443.50M356.11,432.30h2M356.11,443.50h2" fill="none" stroke="#0000ff" stroke-width="1"/><path d="M65.47,398.30L68.57,404.30L62.37,404.30Z" fill="#0000ff"/><path d="M73.47,395.40L76.56,401.40L70.37,401.40Z" fill="#0000ff"/><path d="M81.46,394.20L84.56,400.20L78.36,400.20Z" fill="#0000ff"/><path d="M89.45,392.80L92.55,398.80L86.35,398.80Z" fill="#0000ff"/><path d="M97.44,391.00L100.53,397.00L94.34,397.00Z" fill="#0000ff"/><path d="M105.43,390.20L108.53,396.20L102.33,396.20Z" fill="#0000ff"/><path d="M113.42,389.20L116.52,395.20L110.32,395.20Z" fill="#0000ff"/><path d="M121.41,386.40L124.51,392.40L118.31,392.40Z" fill="#0000ff"/><path d="M129.40,384.10L132.50,390.10L126.30,390.10Z" fill="#0000ff"/><path d="M137.38,383.10L140.48,389.10L134.28,389.10Z" fill="#0000ff"/><path d="M145.38,380.00L148.47,386.00L142.28,386.00Z" fill="#0000ff"/><path d="M153.37,381.50L156.47,387.50L150.27,387.50Z" fill="#0000ff"/><path d="M161.36,382.60L164.46,388.60L158.26,388.60Z" fill="#0000ff"/><path d="M169.35,384.40L172.45,390.40L166.25,390.40Z" fill="#0000ff"/><path d="M177.34,385.10L180.44,391.10L174.24,391.10Z" fill="#0000ff"/><path d="M185.33,385.50L188.43,391.50L182.23,391.50Z" fill="#0000ff"/><path d="M193.32,387.10L196.42,393.10L190.22,393.10Z" fill="#0000ff"/><path d="M201.31,392.30L204.41,398.30L198.21,398.30Z" fill="#0000ff"/><path d="M209.29,391.20L212.39,397.20L206.19,397.20Z" fill="#0000ff"/><path d="M217.29,397.80L220.39,403.80L214.19,403.80Z" fill="#0000ff"/><path d="M225.28,395.50L228.38,401.50L222.18,401.50Z" fill="#0000ff"/><path d="M233.27,401.80L236.37,407.80L230.17,407.80Z" fill="#0000ff"/><path d="M241.26,405.70L244.36,411.70L238.16,411.70Z" fill="#0000ff"/><path d="M249.25,409.60L252.35,415.60L246.15,415.60Z" fill="#0000ff"/><path d="M257.24,416.80L260.34,422.80L254.14,422.80Z" fill="#0000ff"/><path d="M265.23,409.80L268.33,415.80L262.12,415.80Z" fill="#0000ff"/><path d="M277.21,419.90L280.31,425.90L274.11,425.90Z" fill="#0000ff"/><path d="M293.19,423.30L296.29,429.30L290.09,429.30Z" fill="#0000ff"/><path d="M309.17,424.90L312.27,430.90L306.07,430.90Z" fill="#0000ff"/><path d="M325.15,432.60L328.25,438.60L322.05,438.60Z" fill="#0000ff"/><path d="M341.13,439.30L344.23,445.30L338.03,445.30Z" fill="#0000ff"/><path d="M357.11,434.50L360.21,440.50L354.01,440.50Z" fill="#0000ff"/></g><g clip-path="url(#cr)"><polyline points="65.47,427.80 73.47,421.60 81.46,420.10 89.45,414.90 97.44,414.00 105.43,410.50 113.42,406.60 121.41,402.10 129.40,399.40 137.38,396.10 145.38,391.00 153.37,386.00 161.36,383.40 169.35,384.40 177.34,378.00 185.33,372.80 193.32,375.20 201.31,373.90 209.29,369.40 217.29,366.90 225.28,364.80 233.27,360.80 241.26,364.80 249.25,362.50 257.24,364.10 265.23,348.70 277.21,348.10 293.19,361.90 309.17,351.70 325.15,352.50 341.13,344.10 357.11,325.00" fill="none" stroke="#ff0000" stroke-width="1.1" stroke-dasharray="1.0,1.1"/><path d="M233.27,358.30V363.30M232.27,358.30h2M232.27,363.30h2M241.26,361.80V367.80M240.26,361.80h2M240.26,367.80h2M249.25,359.50V365.50M248.25,359.50h2M248.25,365.50h2M257.24,359.60V368.60M256.24,359.60h2M256.24,368.60h2M265.23,344.20V353.20M264.23,344.20h2M264.23,353.20h2M277.21,344.10V352.10M276.21,344.10h2M276.21,352.10h2M293.19,357.20V366.60M292.19,357.20h2M292.19,366.60h2M309.17,348.00V355.40M308.17,348.00h2M308.17,355.40h2M325.15,348.50V356.50M324.15,348.50h2M324.15,356.50h2M341.13,338.20V350.00M340.13,338.20h2M340.13,350.00h2M357.11,320.00V330.00M356.11,320.00h2M356.11,330.00h2" fill="none" stroke="#ff0000" stroke-width="1" stroke-dasharray="1.0,1.1"/><path d="M65.47,424.40L67.67,427.80L65.47,431.20L63.27,427.80Z" fill="#ff0000"/><path d="M73.47,418.20L75.67,421.60L73.47,425.00L71.27,421.60Z" fill="#ff0000"/><path d="M81.46,416.70L83.66,420.10L81.46,423.50L79.26,420.10Z" fill="#ff0000"/><path d="M89.45,411.50L91.65,414.90L89.45,418.30L87.25,414.90Z" fill="#ff0000"/><path d="M97.44,410.60L99.64,414.00L97.44,417.40L95.23,414.00Z" fill="#ff0000"/><path d="M105.43,407.10L107.63,410.50L105.43,413.90L103.23,410.50Z" fill="#ff0000"/><path d="M113.42,403.20L115.62,406.60L113.42,410.00L111.22,406.60Z" fill="#ff0000"/><path d="M121.41,398.70L123.61,402.10L121.41,405.50L119.21,402.10Z" fill="#ff0000"/><path d="M129.40,396.00L131.59,399.40L129.40,402.80L127.20,399.40Z" fill="#ff0000"/><path d="M137.38,392.70L139.58,396.10L137.38,399.50L135.19,396.10Z" fill="#ff0000"/><path d="M145.38,387.60L147.57,391.00L145.38,394.40L143.18,391.00Z" fill="#ff0000"/><path d="M153.37,382.60L155.56,386.00L153.37,389.40L151.17,386.00Z" fill="#ff0000"/><path d="M161.36,380.00L163.56,383.40L161.36,386.80L159.16,383.40Z" fill="#ff0000"/><path d="M169.35,381.00L171.55,384.40L169.35,387.80L167.15,384.40Z" fill="#ff0000"/><path d="M177.34,374.60L179.53,378.00L177.34,381.40L175.14,378.00Z" fill="#ff0000"/><path d="M185.33,369.40L187.53,372.80L185.33,376.20L183.13,372.80Z" fill="#ff0000"/><path d="M193.32,371.80L195.52,375.20L193.32,378.60L191.12,375.20Z" fill="#ff0000"/><path d="M201.31,370.50L203.51,373.90L201.31,377.30L199.11,373.90Z" fill="#ff0000"/><path d="M209.29,366.00L211.49,369.40L209.29,372.80L207.09,369.40Z" fill="#ff0000"/><path d="M217.29,363.50L219.49,366.90L217.29,370.30L215.09,366.90Z" fill="#ff0000"/><path d="M225.28,361.40L227.47,364.80L225.28,368.20L223.08,364.80Z" fill="#ff0000"/><path d="M233.27,357.40L235.47,360.80L233.27,364.20L231.07,360.80Z" fill="#ff0000"/><path d="M241.26,361.40L243.46,364.80L241.26,368.20L239.06,364.80Z" fill="#ff0000"/><path d="M249.25,359.10L251.45,362.50L249.25,365.90L247.05,362.50Z" fill="#ff0000"/><path d="M257.24,360.70L259.44,364.10L257.24,367.50L255.04,364.10Z" fill="#ff0000"/><path d="M265.23,345.30L267.43,348.70L265.23,352.10L263.03,348.70Z" fill="#ff0000"/><path d="M277.21,344.70L279.41,348.10L277.21,351.50L275.01,348.10Z" fill="#ff0000"/><path d="M293.19,358.50L295.39,361.90L293.19,365.30L290.99,361.90Z" fill="#ff0000"/><path d="M309.17,348.30L311.37,351.70L309.17,355.10L306.97,351.70Z" fill="#ff0000"/><path d="M325.15,349.10L327.35,352.50L325.15,355.90L322.95,352.50Z" fill="#ff0000"/><path d="M341.13,340.70L343.33,344.10L341.13,347.50L338.93,344.10Z" fill="#ff0000"/><path d="M357.11,321.60L359.31,325.00L357.11,328.40L354.91,325.00Z" fill="#ff0000"/></g><rect x="45.5" y="17.3" width="325.8" height="300.0" fill="none" stroke="#000" stroke-width="1.1"/><rect x="45.5" y="317.3" width="325.8" height="160.3" fill="none" stroke="#000" stroke-width="1.1"/><g stroke="#000" stroke-width="1"><line x1="45.50" y1="17.30" x2="45.50" y2="25.30"/><line x1="45.50" y1="317.30" x2="45.50" y2="309.30"/><line x1="45.50" y1="317.30" x2="45.50" y2="322.80"/><line x1="45.50" y1="477.60" x2="45.50" y2="473.10"/><line x1="61.48" y1="17.30" x2="61.48" y2="19.50"/><line x1="61.48" y1="317.30" x2="61.48" y2="315.00"/><line x1="61.48" y1="317.30" x2="61.48" y2="319.10"/><line x1="61.48" y1="477.60" x2="61.48" y2="476.40"/><line x1="77.46" y1="17.30" x2="77.46" y2="21.00"/><line x1="77.46" y1="317.30" x2="77.46" y2="313.00"/><line x1="77.46" y1="317.30" x2="77.46" y2="320.30"/><line x1="77.46" y1="477.60" x2="77.46" y2="474.60"/><line x1="93.44" y1="17.30" x2="93.44" y2="19.50"/><line x1="93.44" y1="317.30" x2="93.44" y2="315.00"/><line x1="93.44" y1="317.30" x2="93.44" y2="319.10"/><line x1="93.44" y1="477.60" x2="93.44" y2="476.40"/><line x1="109.42" y1="17.30" x2="109.42" y2="21.00"/><line x1="109.42" y1="317.30" x2="109.42" y2="313.00"/><line x1="109.42" y1="317.30" x2="109.42" y2="320.30"/><line x1="109.42" y1="477.60" x2="109.42" y2="474.60"/><line x1="125.40" y1="17.30" x2="125.40" y2="19.50"/><line x1="125.40" y1="317.30" x2="125.40" y2="315.00"/><line x1="125.40" y1="317.30" x2="125.40" y2="319.10"/><line x1="125.40" y1="477.60" x2="125.40" y2="476.40"/><line x1="141.38" y1="17.30" x2="141.38" y2="21.00"/><line x1="141.38" y1="317.30" x2="141.38" y2="313.00"/><line x1="141.38" y1="317.30" x2="141.38" y2="320.30"/><line x1="141.38" y1="477.60" x2="141.38" y2="474.60"/><line x1="157.36" y1="17.30" x2="157.36" y2="19.50"/><line x1="157.36" y1="317.30" x2="157.36" y2="315.00"/><line x1="157.36" y1="317.30" x2="157.36" y2="319.10"/><line x1="157.36" y1="477.60" x2="157.36" y2="476.40"/><line x1="173.34" y1="17.30" x2="173.34" y2="21.00"/><line x1="173.34" y1="317.30" x2="173.34" y2="313.00"/><line x1="173.34" y1="317.30" x2="173.34" y2="320.30"/><line x1="173.34" y1="477.60" x2="173.34" y2="474.60"/><line x1="189.32" y1="17.30" x2="189.32" y2="19.50"/><line x1="189.32" y1="317.30" x2="189.32" y2="315.00"/><line x1="189.32" y1="317.30" x2="189.32" y2="319.10"/><line x1="189.32" y1="477.60" x2="189.32" y2="476.40"/><line x1="205.50" y1="17.30" x2="205.50" y2="25.30"/><line x1="205.50" y1="317.30" x2="205.50" y2="309.30"/><line x1="205.50" y1="317.30" x2="205.50" y2="322.80"/><line x1="205.50" y1="477.60" x2="205.50" y2="473.10"/><line x1="221.28" y1="17.30" x2="221.28" y2="19.50"/><line x1="221.28" y1="317.30" x2="221.28" y2="315.00"/><line x1="221.28" y1="317.30" x2="221.28" y2="319.10"/><line x1="221.28" y1="477.60" x2="221.28" y2="476.40"/><line x1="237.26" y1="17.30" x2="237.26" y2="21.00"/><line x1="237.26" y1="317.30" x2="237.26" y2="313.00"/><line x1="237.26" y1="317.30" x2="237.26" y2="320.30"/><line x1="237.26" y1="477.60" x2="237.26" y2="474.60"/><line x1="253.24" y1="17.30" x2="253.24" y2="19.50"/><line x1="253.24" y1="317.30" x2="253.24" y2="315.00"/><line x1="253.24" y1="317.30" x2="253.24" y2="319.10"/><line x1="253.24" y1="477.60" x2="253.24" y2="476.40"/><line x1="269.22" y1="17.30" x2="269.22" y2="21.00"/><line x1="269.22" y1="317.30" x2="269.22" y2="313.00"/><line x1="269.22" y1="317.30" x2="269.22" y2="320.30"/><line x1="269.22" y1="477.60" x2="269.22" y2="474.60"/><line x1="285.20" y1="17.30" x2="285.20" y2="19.50"/><line x1="285.20" y1="317.30" x2="285.20" y2="315.00"/><line x1="285.20" y1="317.30" x2="285.20" y2="319.10"/><line x1="285.20" y1="477.60" x2="285.20" y2="476.40"/><line x1="301.18" y1="17.30" x2="301.18" y2="21.00"/><line x1="301.18" y1="317.30" x2="301.18" y2="313.00"/><line x1="301.18" y1="317.30" x2="301.18" y2="320.30"/><line x1="301.18" y1="477.60" x2="301.18" y2="474.60"/><line x1="317.16" y1="17.30" x2="317.16" y2="19.50"/><line x1="317.16" y1="317.30" x2="317.16" y2="315.00"/><line x1="317.16" y1="317.30" x2="317.16" y2="319.10"/><line x1="317.16" y1="477.60" x2="317.16" y2="476.40"/><line x1="333.14" y1="17.30" x2="333.14" y2="21.00"/><line x1="333.14" y1="317.30" x2="333.14" y2="313.00"/><line x1="333.14" y1="317.30" x2="333.14" y2="320.30"/><line x1="333.14" y1="477.60" x2="333.14" y2="474.60"/><line x1="349.12" y1="17.30" x2="349.12" y2="19.50"/><line x1="349.12" y1="317.30" x2="349.12" y2="315.00"/><line x1="349.12" y1="317.30" x2="349.12" y2="319.10"/><line x1="349.12" y1="477.60" x2="349.12" y2="476.40"/><line x1="365.50" y1="17.30" x2="365.50" y2="25.30"/><line x1="365.50" y1="317.30" x2="365.50" y2="309.30"/><line x1="365.50" y1="317.30" x2="365.50" y2="322.80"/><line x1="365.50" y1="477.60" x2="365.50" y2="473.10"/><line x1="45.50" y1="301.50" x2="51.00" y2="301.50"/><line x1="371.30" y1="301.50" x2="365.80" y2="301.50"/><line x1="45.50" y1="290.79" x2="51.00" y2="290.79"/><line x1="371.30" y1="290.79" x2="365.80" y2="290.79"/><line x1="45.50" y1="283.19" x2="51.00" y2="283.19"/><line x1="371.30" y1="283.19" x2="365.80" y2="283.19"/><line x1="45.50" y1="277.30" x2="51.00" y2="277.30"/><line x1="371.30" y1="277.30" x2="365.80" y2="277.30"/><line x1="45.50" y1="272.49" x2="51.00" y2="272.49"/><line x1="371.30" y1="272.49" x2="365.80" y2="272.49"/><line x1="45.50" y1="268.42" x2="51.00" y2="268.42"/><line x1="371.30" y1="268.42" x2="365.80" y2="268.42"/><line x1="45.50" y1="264.89" x2="51.00" y2="264.89"/><line x1="371.30" y1="264.89" x2="365.80" y2="264.89"/><line x1="45.50" y1="261.78" x2="51.00" y2="261.78"/><line x1="371.30" y1="261.78" x2="365.80" y2="261.78"/><line x1="45.50" y1="259.00" x2="56.50" y2="259.00"/><line x1="371.30" y1="259.00" x2="360.30" y2="259.00"/><line x1="45.50" y1="240.70" x2="51.00" y2="240.70"/><line x1="371.30" y1="240.70" x2="365.80" y2="240.70"/><line x1="45.50" y1="229.99" x2="51.00" y2="229.99"/><line x1="371.30" y1="229.99" x2="365.80" y2="229.99"/><line x1="45.50" y1="222.39" x2="51.00" y2="222.39"/><line x1="371.30" y1="222.39" x2="365.80" y2="222.39"/><line x1="45.50" y1="216.50" x2="51.00" y2="216.50"/><line x1="371.30" y1="216.50" x2="365.80" y2="216.50"/><line x1="45.50" y1="211.69" x2="51.00" y2="211.69"/><line x1="371.30" y1="211.69" x2="365.80" y2="211.69"/><line x1="45.50" y1="207.62" x2="51.00" y2="207.62"/><line x1="371.30" y1="207.62" x2="365.80" y2="207.62"/><line x1="45.50" y1="204.09" x2="51.00" y2="204.09"/><line x1="371.30" y1="204.09" x2="365.80" y2="204.09"/><line x1="45.50" y1="200.98" x2="51.00" y2="200.98"/><line x1="371.30" y1="200.98" x2="365.80" y2="200.98"/><line x1="45.50" y1="198.20" x2="56.50" y2="198.20"/><line x1="371.30" y1="198.20" x2="360.30" y2="198.20"/><line x1="45.50" y1="179.90" x2="51.00" y2="179.90"/><line x1="371.30" y1="179.90" x2="365.80" y2="179.90"/><line x1="45.50" y1="169.19" x2="51.00" y2="169.19"/><line x1="371.30" y1="169.19" x2="365.80" y2="169.19"/><line x1="45.50" y1="161.59" x2="51.00" y2="161.59"/><line x1="371.30" y1="161.59" x2="365.80" y2="161.59"/><line x1="45.50" y1="155.70" x2="51.00" y2="155.70"/><line x1="371.30" y1="155.70" x2="365.80" y2="155.70"/><line x1="45.50" y1="150.89" x2="51.00" y2="150.89"/><line x1="371.30" y1="150.89" x2="365.80" y2="150.89"/><line x1="45.50" y1="146.82" x2="51.00" y2="146.82"/><line x1="371.30" y1="146.82" x2="365.80" y2="146.82"/><line x1="45.50" y1="143.29" x2="51.00" y2="143.29"/><line x1="371.30" y1="143.29" x2="365.80" y2="143.29"/><line x1="45.50" y1="140.18" x2="51.00" y2="140.18"/><line x1="371.30" y1="140.18" x2="365.80" y2="140.18"/><line x1="45.50" y1="137.40" x2="56.50" y2="137.40"/><line x1="371.30" y1="137.40" x2="360.30" y2="137.40"/><line x1="45.50" y1="119.10" x2="51.00" y2="119.10"/><line x1="371.30" y1="119.10" x2="365.80" y2="119.10"/><line x1="45.50" y1="108.39" x2="51.00" y2="108.39"/><line x1="371.30" y1="108.39" x2="365.80" y2="108.39"/><line x1="45.50" y1="100.79" x2="51.00" y2="100.79"/><line x1="371.30" y1="100.79" x2="365.80" y2="100.79"/><line x1="45.50" y1="94.90" x2="51.00" y2="94.90"/><line x1="371.30" y1="94.90" x2="365.80" y2="94.90"/><line x1="45.50" y1="90.09" x2="51.00" y2="90.09"/><line x1="371.30" y1="90.09" x2="365.80" y2="90.09"/><line x1="45.50" y1="86.02" x2="51.00" y2="86.02"/><line x1="371.30" y1="86.02" x2="365.80" y2="86.02"/><line x1="45.50" y1="82.49" x2="51.00" y2="82.49"/><line x1="371.30" y1="82.49" x2="365.80" y2="82.49"/><line x1="45.50" y1="79.38" x2="51.00" y2="79.38"/><line x1="371.30" y1="79.38" x2="365.80" y2="79.38"/><line x1="45.50" y1="76.60" x2="56.50" y2="76.60"/><line x1="371.30" y1="76.60" x2="360.30" y2="76.60"/><line x1="45.50" y1="58.30" x2="51.00" y2="58.30"/><line x1="371.30" y1="58.30" x2="365.80" y2="58.30"/><line x1="45.50" y1="47.59" x2="51.00" y2="47.59"/><line x1="371.30" y1="47.59" x2="365.80" y2="47.59"/><line x1="45.50" y1="39.99" x2="51.00" y2="39.99"/><line x1="371.30" y1="39.99" x2="365.80" y2="39.99"/><line x1="45.50" y1="34.10" x2="51.00" y2="34.10"/><line x1="371.30" y1="34.10" x2="365.80" y2="34.10"/><line x1="45.50" y1="29.29" x2="51.00" y2="29.29"/><line x1="371.30" y1="29.29" x2="365.80" y2="29.29"/><line x1="45.50" y1="25.22" x2="51.00" y2="25.22"/><line x1="371.30" y1="25.22" x2="365.80" y2="25.22"/><line x1="45.50" y1="21.69" x2="51.00" y2="21.69"/><line x1="371.30" y1="21.69" x2="365.80" y2="21.69"/><line x1="45.50" y1="18.58" x2="51.00" y2="18.58"/><line x1="371.30" y1="18.58" x2="365.80" y2="18.58"/><line x1="45.50" y1="477.59" x2="51.00" y2="477.59"/><line x1="371.30" y1="477.59" x2="365.80" y2="477.59"/><line x1="45.50" y1="458.11" x2="52.50" y2="458.11"/><line x1="371.30" y1="458.11" x2="364.30" y2="458.11"/><line x1="45.50" y1="442.19" x2="51.00" y2="442.19"/><line x1="371.30" y1="442.19" x2="365.80" y2="442.19"/><line x1="45.50" y1="428.74" x2="51.00" y2="428.74"/><line x1="371.30" y1="428.74" x2="365.80" y2="428.74"/><line x1="45.50" y1="417.08" x2="51.00" y2="417.08"/><line x1="371.30" y1="417.08" x2="365.80" y2="417.08"/><line x1="45.50" y1="406.80" x2="51.00" y2="406.80"/><line x1="371.30" y1="406.80" x2="365.80" y2="406.80"/><line x1="45.50" y1="397.60" x2="52.50" y2="397.60"/><line x1="371.30" y1="397.60" x2="364.30" y2="397.60"/><line x1="45.50" y1="389.28" x2="51.00" y2="389.28"/><line x1="371.30" y1="389.28" x2="365.80" y2="389.28"/><line x1="45.50" y1="381.68" x2="51.00" y2="381.68"/><line x1="371.30" y1="381.68" x2="365.80" y2="381.68"/><line x1="45.50" y1="374.70" x2="51.00" y2="374.70"/><line x1="371.30" y1="374.70" x2="365.80" y2="374.70"/><line x1="45.50" y1="368.23" x2="51.00" y2="368.23"/><line x1="371.30" y1="368.23" x2="365.80" y2="368.23"/><line x1="45.50" y1="362.21" x2="52.50" y2="362.21"/><line x1="371.30" y1="362.21" x2="364.30" y2="362.21"/><line x1="45.50" y1="356.57" x2="51.00" y2="356.57"/><line x1="371.30" y1="356.57" x2="365.80" y2="356.57"/><line x1="45.50" y1="351.28" x2="51.00" y2="351.28"/><line x1="371.30" y1="351.28" x2="365.80" y2="351.28"/><line x1="45.50" y1="346.29" x2="51.00" y2="346.29"/><line x1="371.30" y1="346.29" x2="365.80" y2="346.29"/><line x1="45.50" y1="341.57" x2="51.00" y2="341.57"/><line x1="371.30" y1="341.57" x2="365.80" y2="341.57"/><line x1="45.50" y1="337.09" x2="52.50" y2="337.09"/><line x1="371.30" y1="337.09" x2="364.30" y2="337.09"/><line x1="45.50" y1="332.83" x2="51.00" y2="332.83"/><line x1="371.30" y1="332.83" x2="365.80" y2="332.83"/><line x1="45.50" y1="328.77" x2="51.00" y2="328.77"/><line x1="371.30" y1="328.77" x2="365.80" y2="328.77"/><line x1="45.50" y1="324.89" x2="51.00" y2="324.89"/><line x1="371.30" y1="324.89" x2="365.80" y2="324.89"/><line x1="45.50" y1="321.18" x2="51.00" y2="321.18"/><line x1="371.30" y1="321.18" x2="365.80" y2="321.18"/><line x1="45.50" y1="317.61" x2="51.00" y2="317.61"/><line x1="371.30" y1="317.61" x2="365.80" y2="317.61"/></g><text x="0" y="0" font-size="12.7" text-anchor="start" fill="#000" transform="translate(50.6,13.7) scale(0.945,1)">7000 GeV pp</text><text x="0" y="0" font-size="12.7" text-anchor="end" fill="#000" transform="translate(366.0,13.7) scale(0.945,1)">Soft QCD</text><text transform="translate(129.3,43.0) scale(0.945,1)" font-size="12.7">Momentum fraction z<tspan font-size="10.5">(track jets)</tspan></text><text x="0" y="0" font-size="12" text-anchor="end" fill="#000" transform="translate(16,17.2) rotate(-90)">(1/Njet)dN/dz</text><text x="0" y="0" font-size="9.48" text-anchor="end" fill="#707070" transform="translate(379.7,17.5) rotate(-90)">Rivet 3.1.10, ≥ 2.5M events</text><text x="0" y="0" font-size="9.45" text-anchor="end" fill="#707070" transform="translate(381.3,171.7) rotate(-90)">mcplots.cern.ch [arXiv:1306.3436]</text><text x="168.3" y="301.9" font-size="8" text-anchor="start" fill="#a0a0a0">ATLAS_2011_I919017</text><text x="0" y="0" font-size="10" text-anchor="end" fill="#000" transform="translate(17.9,365.9) rotate(-90) scale(0.905,1)">Ratio to ATLAS</text><text x="372.4" y="503.9" font-size="12.4" text-anchor="end" fill="#000">Charged Particle z</text><text x="23.0" y="81.8" font-size="10.7" text-anchor="start" fill="#000" letter-spacing="-0.7">10</text><text x="34.6" y="77.4" font-size="7.3" text-anchor="start" fill="#000">2</text><text x="27.2" y="141.8" font-size="10.7" text-anchor="start" fill="#000" letter-spacing="0.6">10</text><text x="34.8" y="202.0" font-size="10.7" text-anchor="start" fill="#000">1</text><text x="21.1" y="264.8" font-size="10.7" text-anchor="start" fill="#000" letter-spacing="0.1">10</text><text x="32.6" y="260.2" font-size="7.3" text-anchor="start" fill="#000">−1</text><text x="38.5" y="341.2" font-size="12" text-anchor="end" fill="#000">2</text><text x="38.2" y="402.0" font-size="12" text-anchor="end" fill="#000">1</text><text x="38.5" y="462.4" font-size="12" text-anchor="end" fill="#000">0.5</text><text x="373.8" y="341.2" font-size="12" text-anchor="start" fill="#000">2</text><text x="373.8" y="402.0" font-size="12" text-anchor="start" fill="#000">1</text><text x="373.8" y="462.4" font-size="12" text-anchor="start" fill="#000">0.5</text><text x="45.9" y="489.2" font-size="12" text-anchor="middle" fill="#000">0</text><text x="205.4" y="489.2" font-size="12" text-anchor="middle" fill="#000">0.5</text><text x="366.0" y="489.2" font-size="12" text-anchor="middle" fill="#000">1</text><rect x="73.65" y="221.05" width="5.7" height="5.7" fill="#000"/><text x="94.2" y="227.20" font-size="9.37" text-anchor="start" fill="#000">ATLAS</text><line x1="64" y1="236.95" x2="88" y2="236.95" stroke="#b45e10" stroke-width="1" stroke-dasharray="2.4,1.8"/><circle cx="76.40" cy="236.95" r="2.6" fill="none" stroke="#b45e10" stroke-width="0.95"/><text x="94.2" y="240.25" font-size="9.37" text-anchor="start" fill="#000">Herwig++ 2.7.1 default</text><line x1="64" y1="250.00" x2="88" y2="250.00" stroke="#3c9a1e" stroke-width="1" stroke-dasharray="2.3,1.9"/><rect x="73.70" y="247.30" width="5.4" height="5.4" fill="none" stroke="#3c9a1e" stroke-width="1.1"/><text x="94.2" y="253.30" font-size="9.37" text-anchor="start" fill="#000">Herwig 7.2.1 default</text><line x1="64" y1="263.05" x2="88" y2="263.05" stroke="#0000ff" stroke-width="1"/><path d="M76.40,259.65L79.50,265.65L73.30,265.65Z" fill="#0000ff"/><text x="94.2" y="266.35" font-size="9.37" text-anchor="start" fill="#000">Pythia 8.308 default</text><line x1="64" y1="276.10" x2="88" y2="276.10" stroke="#ff0000" stroke-width="1" stroke-dasharray="1.0,1.1"/><path d="M76.40,272.70L78.60,276.10L76.40,279.50L74.20,276.10Z" fill="#ff0000"/><text x="94.2" y="279.40" font-size="9.37" text-anchor="start" fill="#000">Sherpa 2.2.9 default</text></svg></body></html>
